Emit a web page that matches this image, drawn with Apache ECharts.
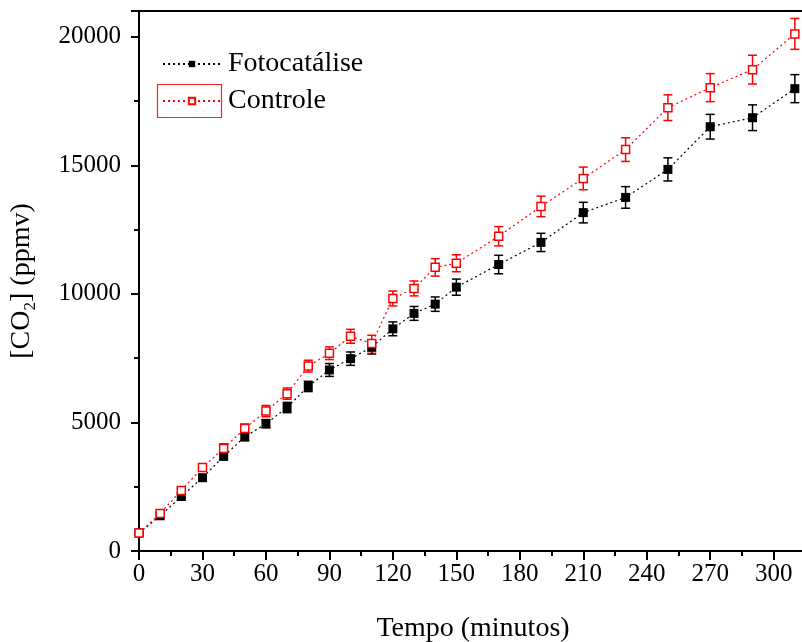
<!DOCTYPE html>
<html>
<head>
<meta charset="utf-8">
<script src="https://cdn.jsdelivr.net/npm/echarts@6/dist/echarts.min.js"></script>
<style>html,body{margin:0;padding:0;background:#fff;}#c{width:802px;height:642px;}</style>
</head>
<body>
<div id="c"></div>
<script>
// Data
var times = [0,10,20,30,40,50,60,70,80,90,100,110,120,130,140,150,170,190,210,230,250,270,290,310];
var fotoValues = [700,1370,2120,2850,3680,4440,4950,5580,6400,7040,7480,7930,8640,9240,9600,10260,11140,12000,13160,13750,14840,16500,16850,17980];
var fotoErrors = [40,50,80,100,130,150,160,200,200,250,260,270,270,270,280,315,360,355,400,420,450,480,500,545];
var ctrlValues = [700,1460,2350,3250,3990,4760,5440,6120,7190,7690,8350,8070,9820,10210,11030,11190,12240,13400,14490,15610,17240,18020,18720,20110];
var ctrlErrors = [50,60,100,130,180,180,220,220,230,245,270,320,290,290,340,330,375,400,440,460,500,545,560,600];
var xTicks = [0,30,60,90,120,150,180,210,240,270,300];
var yTicks = [0,5000,10000,15000,20000];
var seriesNames = ['Fotocatálise','Controle'];

var FONT = '"Liberation Serif", "Times New Roman", serif';

function errData(vals, errs){ return times.map(function(t,i){ return [t, vals[i], errs[i]]; }); }
function lineData(vals){ return times.map(function(t,i){ return [t, vals[i]]; }); }

function errRender(color){
  return function(params, api){
    var x = api.value(0), y = api.value(1), e = api.value(2);
    var top = api.coord([x, y + e]);
    var bot = api.coord([x, y - e]);
    var h = 4.5;
    var st = {stroke: color, lineWidth: 1.5};
    return {type:'group', children:[
      {type:'line', shape:{x1:top[0], y1:top[1], x2:bot[0], y2:bot[1]}, style:st},
      {type:'line', shape:{x1:top[0]-h, y1:top[1], x2:top[0]+h, y2:top[1]}, style:st},
      {type:'line', shape:{x1:bot[0]-h, y1:bot[1], x2:bot[0]+h, y2:bot[1]}, style:st}
    ]};
  };
}

var chart = echarts.init(document.getElementById('c'), null, {renderer:'canvas'});
var option = {
  animation: false,
  backgroundColor: '#fff',
  textStyle: {fontFamily: FONT},
  grid: {left: 139, right: -14, top: 11, bottom: 91, outerBoundsMode: 'none', containLabel: false,
    show: true, borderColor: '#000', borderWidth: 2, backgroundColor: 'transparent'},
  legend: {
    data: seriesNames,
    orient: 'vertical',
    left: 157, top: 45,
    itemWidth: 58, itemHeight: 8,
    itemGap: 9,
    textStyle: {fontFamily: FONT, fontSize: 28, color: '#000', padding: [0,0,0,2]}
  },
  xAxis: {
    type: 'value', min: 0, max: 320, interval: 30,
    name: 'Tempo (minutos)', nameLocation: 'middle', nameGap: 64,
    nameTextStyle: {fontFamily: FONT, fontSize: 28, color: '#000', padding: [0, 9, 0, 0]},
    axisLine: {show: true, onZero: false, lineStyle: {color: '#000', width: 2}},
    axisTick: {show: true, inside: false, length: 9, lineStyle: {color: '#000', width: 2}},
    minorTick: {show: true, splitNumber: 2, length: 5, lineStyle: {color: '#000', width: 2}},
    axisLabel: {fontFamily: FONT, fontSize: 25, color: '#000', margin: 11, showMaxLabel: false,
      formatter: function(v){ return xTicks.indexOf(v) >= 0 ? String(v) : ''; }},
    splitLine: {show: false}
  },
  yAxis: {
    type: 'value', min: 0, max: 21000, interval: 5000,
    name: '{a|[CO}{s|2}{a|] (ppmv)}', nameLocation: 'middle', nameGap: 100, nameRotate: 90,
    nameTextStyle: {fontFamily: FONT, fontSize: 28, color: '#000',
      rich: {a: {fontFamily: FONT, fontSize: 28, color: '#000', lineHeight: 34},
             s: {fontFamily: FONT, fontSize: 17, color: '#000', lineHeight: 17, verticalAlign: 'bottom'}}},
    axisLine: {show: true, onZero: false, lineStyle: {color: '#000', width: 2}},
    axisTick: {show: true, inside: false, length: 8, lineStyle: {color: '#000', width: 2}},
    minorTick: {show: true, splitNumber: 2, length: 5, lineStyle: {color: '#000', width: 2}},
    axisLabel: {fontFamily: FONT, fontSize: 25, color: '#000', margin: 18, showMaxLabel: false,
      formatter: function(v){ return yTicks.indexOf(v) >= 0 ? String(v) : ''; }},
    splitLine: {show: false}
  },
  graphic: [
    {type: 'rect', left: 155, top: 82, shape: {width: 64, height: 33}, style: {fill: 'none', stroke: '#ff2020', lineWidth: 1.2}, z: 100}
  ],
  series: [
    {type: 'custom', name: 'errF', renderItem: errRender('#000'), data: errData(fotoValues, fotoErrors), z: 2, encode: {x: 0, y: 1}},
    {type: 'custom', name: 'errC', renderItem: errRender('#ff0000'), data: errData(ctrlValues, ctrlErrors), z: 2, encode: {x: 0, y: 1}},
    {type: 'line', name: seriesNames[0], data: lineData(fotoValues), z: 5,
      symbol: 'rect', symbolSize: 9, showAllSymbol: true,
      lineStyle: {color: '#000', width: 1.2, type: [2, 3]},
      itemStyle: {color: '#000', borderColor: '#000', borderWidth: 0}},
    {type: 'line', name: seriesNames[1], data: lineData(ctrlValues), z: 6,
      symbol: 'rect', symbolSize: 8, showAllSymbol: true,
      lineStyle: {color: '#ff0000', width: 1.2, type: [2, 3]},
      itemStyle: {color: '#fff', borderColor: '#ff0000', borderWidth: 1.5}}
  ]
};
chart.setOption(option);
</script>
</body>
</html>
